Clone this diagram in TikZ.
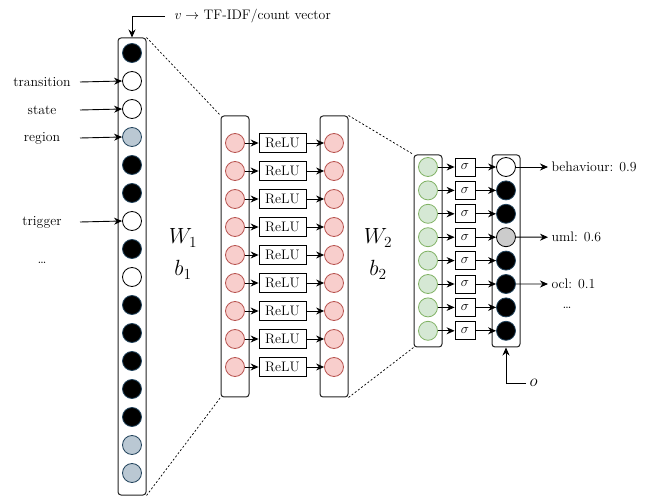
\RequirePackage{fix-cm}
\documentclass[tikz,border=0pt]{standalone}
\usepackage{fontspec}
\usetikzlibrary{arrows.meta}

\definecolor{pinkfill}{HTML}{F8CECC}
\definecolor{pinkdraw}{HTML}{B85450}
\definecolor{greenfill}{HTML}{D5E8D4}
\definecolor{greendraw}{HTML}{82B366}
\definecolor{bluefill}{HTML}{BAC8D3}
\definecolor{bluedraw}{HTML}{23445D}
\definecolor{grayfill}{HTML}{CCCCCC}
\definecolor{linegray}{HTML}{222222}

\tikzset{
  every node/.style={font=\fontsize{13.8pt}{16pt}\selectfont},
  layer/.style={draw=linegray, rounded corners=3pt, line width=1pt, minimum width=28pt, inner sep=0pt},
  neuron/.style={circle, draw, minimum size=19pt, inner sep=0pt, line width=0.8pt},
  nblk/.style={neuron, fill=black, draw=bluedraw},
  nwht/.style={neuron, fill=white, draw=black},
  nblu/.style={neuron, fill=bluefill, draw=bluedraw},
  npnk/.style={neuron, fill=pinkfill, draw=pinkdraw},
  ngrn/.style={neuron, fill=greenfill, draw=greendraw},
  ngry/.style={neuron, fill=grayfill, draw=black},
  relubox/.style={draw, line width=0.8pt, minimum width=47pt, minimum height=19pt, inner sep=0pt},
  sigbox/.style={draw, line width=0.8pt, minimum width=20pt, minimum height=18pt, inner sep=0pt},
  arr/.style={-{Stealth[length=8pt,width=7pt]}, line width=0.9pt},
  proj/.style={dash pattern=on 2pt off 2pt, line width=0.7pt},
  bigmath/.style={font=\fontsize{22pt}{26pt}\selectfont},
}

\begin{document}
\begin{tikzpicture}[x=1pt,y=-1pt]
\useasboundingbox (0,0) rectangle (646,497);

% input layer
\node[layer, minimum height=457pt] (L0) at (132,266.5) {};
\foreach \s [count=\i] in {nblk,nwht,nwht,nblu,nblk,nblk,nwht,nblk,nwht,nblk,nblk,nblk,nblk,nblk,nblu,nblu}
  \node[\s] (in\i) at (132,{53+28*(\i-1)}) {};

% vectorisation input
\node[anchor=west] (vec) at (171,16) {$v\rightarrow$ TF-IDF/count vector};
\coordinate (vecs) at (165,16);
\draw[arr] (vecs) -| (L0.north);

% token labels
\node (ltr) at (42,82) {transition};
\node (lst) at (42,110) {state};
\node (lre) at (42,138) {region};
\node (ltg) at (42,222) {trigger};
\node (ldt) at (42,263) {\dots};
\coordinate (atr) at (80,82);
\coordinate (ast) at (80,110);
\coordinate (are) at (80,138);
\coordinate (atg) at (80,222);
\draw[arr] (atr) -- (in2.west);
\draw[arr] (ast) -- (in3.west);
\draw[arr] (are) -- (in4.west);
\draw[arr] (atg) -- (in7.west);

% first weights
\node[bigmath] (w1) at (183,238) {$W_1$};
\node[bigmath] (b1) at (183,270) {$b_1$};

% hidden layers
\node[layer, minimum height=281pt] (H1) at (235,256.5) {};
\node[layer, minimum height=281pt] (H2) at (334,256.5) {};
\foreach \i in {1,...,9} {
  \node[npnk] (ha\i) at (235,{143+28*(\i-1)}) {};
  \node[npnk] (hb\i) at (334,{143+28*(\i-1)}) {};
  \node[relubox] (re\i) at (282.5,{143+28*(\i-1)}) {ReLU};
  \draw[arr] (ha\i.east) -- (re\i.west);
  \draw[arr] (re\i.east) -- (hb\i.west);
}

\draw[proj] (L0.north east) -- (H1.north west);
\draw[proj] (L0.south east) -- (H1.south west);

% second weights
\node[bigmath] (w2) at (378,238) {$W_2$};
\node[bigmath] (b2) at (378,270) {$b_2$};

% output layers
\node[layer, minimum height=192pt] (G) at (428,251) {};
\node[layer, minimum height=192pt] (O) at (506,251) {};
\foreach \s [count=\i] in {nwht,nblk,nblk,ngry,nblk,nblk,nblk,nblk} {
  \node[ngrn] (g\i) at (428,{167+23.4*(\i-1)}) {};
  \node[sigbox] (s\i) at (465,{167+23.4*(\i-1)}) {$\sigma$};
  \node[\s] (o\i) at (506,{167+23.4*(\i-1)}) {};
  \draw[arr] (g\i.east) -- (s\i.west);
  \draw[arr] (s\i.east) -- (o\i.west);
}

\draw[proj] (H2.north east) -- (G.north west);
\draw[proj] (H2.south east) -- (G.south west);

% predicted labels
\node[anchor=west] (pbe) at (548,167) {behaviour: 0.9};
\node[anchor=west] (pum) at (548,237.2) {uml: 0.6};
\node[anchor=west] (poc) at (548,284) {ocl: 0.1};
\node (pdt) at (567,308) {\dots};
\draw[arr] (o1.east) -- (pbe.west);
\draw[arr] (o4.east) -- (pum.west);
\draw[arr] (o6.east) -- (poc.west);

% target vector
\node[anchor=west, font=\fontsize{17pt}{19pt}\selectfont] (ot) at (526,383) {$o$};
\draw[arr] (ot.west) -| (O.south);

\end{tikzpicture}
\end{document}
